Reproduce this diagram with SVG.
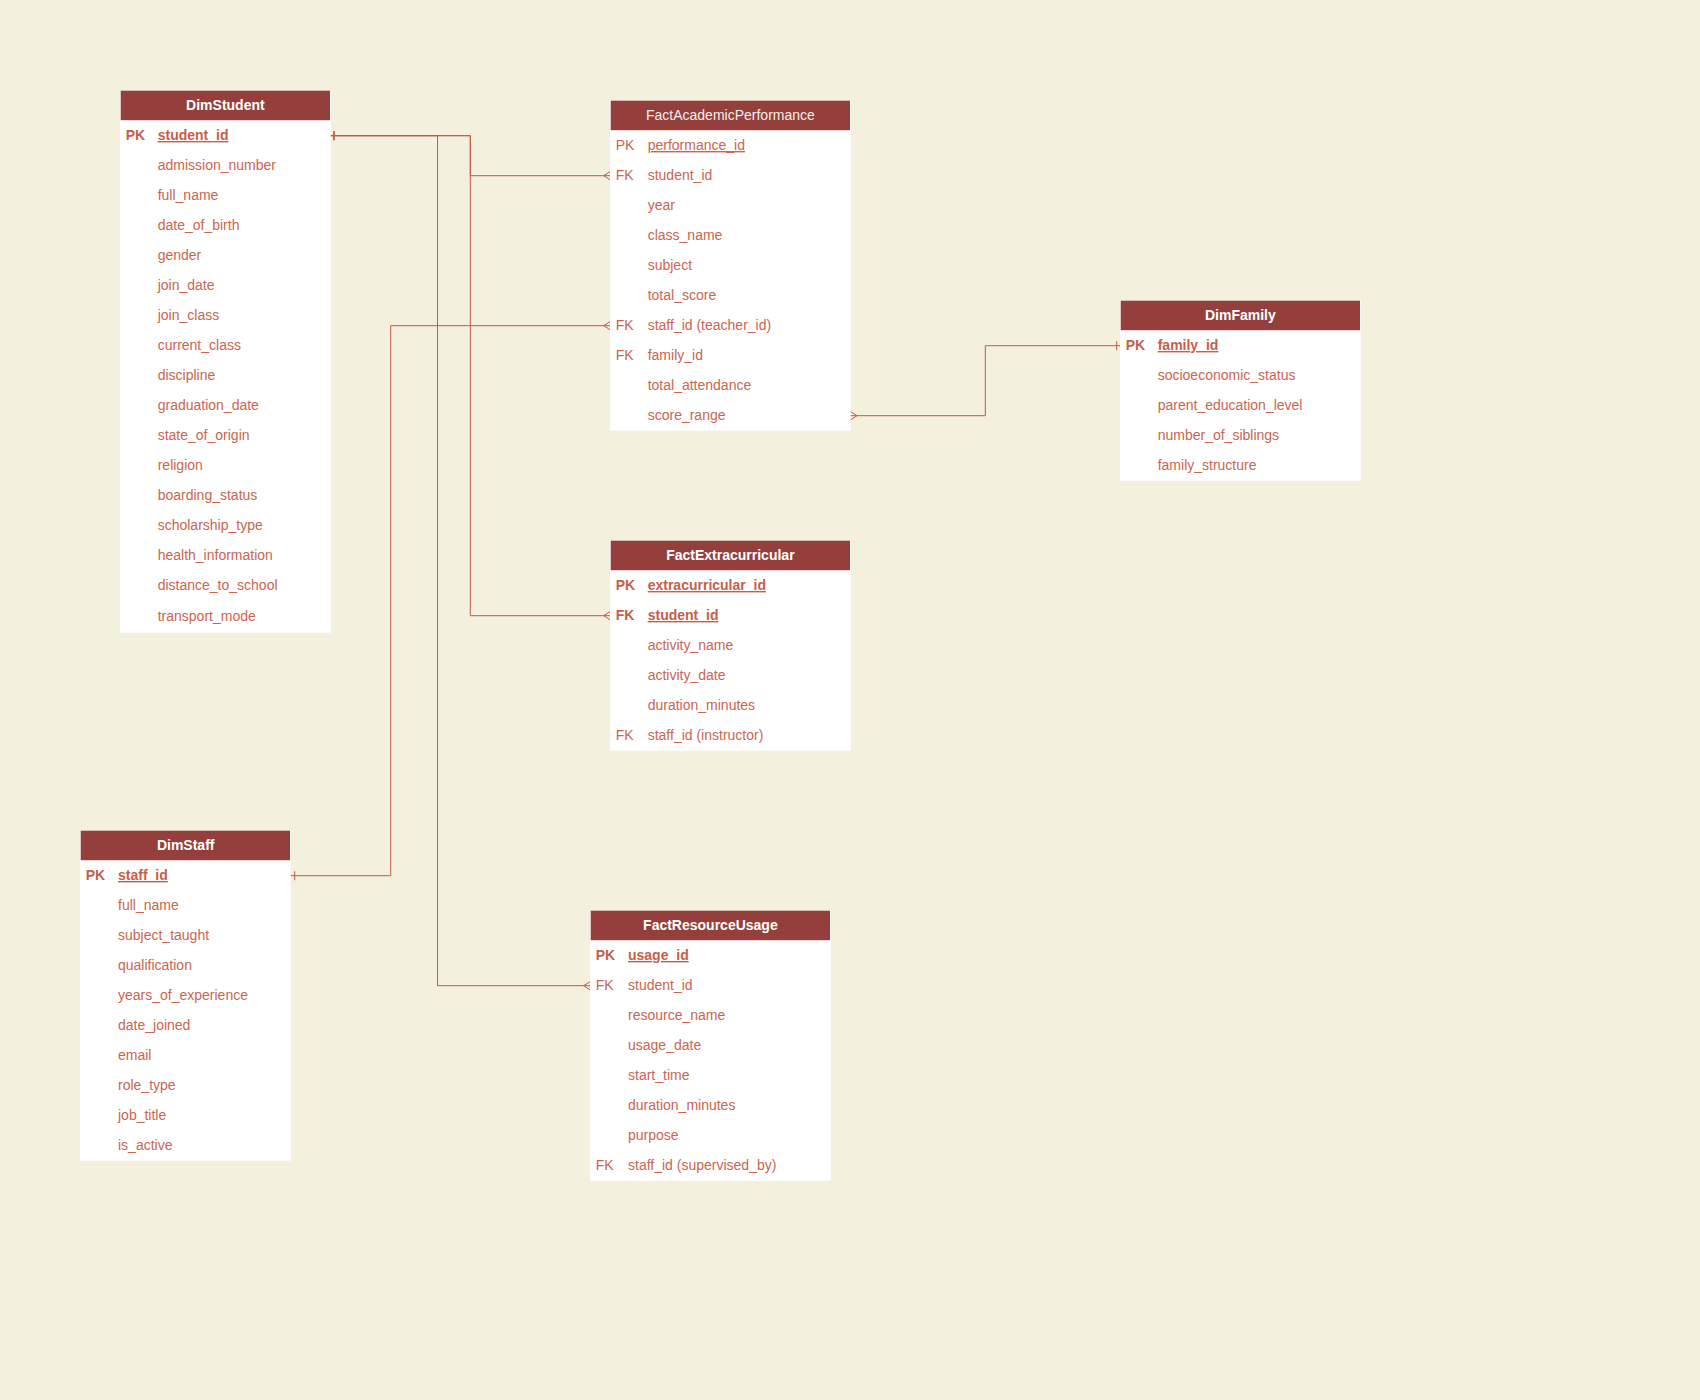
<svg xmlns="http://www.w3.org/2000/svg" width="1700" height="1400" viewBox="0 0 1700 1400">
<style>
.bg{fill:#F3F0DE}
.body{fill:#FFFFFF}
.head{fill:#943F3C}
.title{font-family:"Liberation Sans",Arial,sans-serif;font-size:14px;fill:#FFFFFF;text-anchor:middle;font-weight:bold}
.title.n{font-weight:normal;fill:#F6EEEE}
.t{font-family:"Liberation Sans",Arial,sans-serif;font-size:14px;fill:#CA654F}
.b{font-weight:bold;fill:#C65E48}
.u{text-decoration:underline}
.conn{fill:none;stroke:#C25B45;stroke-width:1}
</style>
<defs>
<marker id="many" markerUnits="userSpaceOnUse" markerWidth="9" markerHeight="11" viewBox="0 0 9 11" refX="7.5" refY="5" orient="auto" overflow="visible">
<path d="M0.5,5 L7.5,0.5 M0.5,5 L7.5,9.5" fill="none" stroke="#C25B45" stroke-width="1"/>
</marker>
<marker id="one" markerUnits="userSpaceOnUse" markerWidth="9" markerHeight="11" viewBox="0 0 9 11" refX="0" refY="5" orient="auto" overflow="visible">
<path d="M4,0.5 L4,9.5" fill="none" stroke="#C25B45" stroke-width="1"/>
</marker>
</defs>
<rect class="bg" x="0" y="0" width="1700" height="1400"/>

<g id="connectors">
<path class="conn" d="M330,135.7 H470.3 V175.7 H610.7" marker-start="url(#one)" marker-end="url(#many)"/>
<path class="conn" d="M330,135.7 H470.3 V615.7 H610.7" marker-start="url(#one)" marker-end="url(#many)"/>
<path class="conn" d="M330,135.7 H437.5 V985.7 H590.7" marker-start="url(#one)" marker-end="url(#many)"/>
<path class="conn" d="M290.7,875.7 H390.7 V325.7 H610.7" marker-start="url(#one)" marker-end="url(#many)"/>
<path class="conn" d="M1120.7,345.7 H985.3 V415.7 H850" marker-start="url(#one)" marker-end="url(#many)"/>
</g>

<g id="DimStudent">
<rect class="body" x="120" y="90.7" width="210.7" height="542"/>
<rect class="head" x="120.7" y="90.7" width="209.3" height="29.5"/>
<text class="title" x="225.4" y="110.3">DimStudent</text>
<text class="t b" x="125.7" y="140">PK</text>
<text class="t b u" x="157.7" y="140">student_id</text>
<text class="t" x="157.7" y="170">admission_number</text>
<text class="t" x="157.7" y="200">full_name</text>
<text class="t" x="157.7" y="230">date_of_birth</text>
<text class="t" x="157.7" y="260">gender</text>
<text class="t" x="157.7" y="290">join_date</text>
<text class="t" x="157.7" y="320">join_class</text>
<text class="t" x="157.7" y="350">current_class</text>
<text class="t" x="157.7" y="380">discipline</text>
<text class="t" x="157.7" y="410">graduation_date</text>
<text class="t" x="157.7" y="440">state_of_origin</text>
<text class="t" x="157.7" y="470">religion</text>
<text class="t" x="157.7" y="500">boarding_status</text>
<text class="t" x="157.7" y="530">scholarship_type</text>
<text class="t" x="157.7" y="560">health_information</text>
<text class="t" x="157.7" y="590">distance_to_school</text>
<text class="t" x="157.7" y="620.5">transport_mode</text>
</g>

<g id="FactAcademicPerformance">
<rect class="body" x="610" y="100.7" width="240.7" height="330"/>
<rect class="head" x="610.7" y="100.7" width="239.3" height="29.5"/>
<text class="title n" x="730.4" y="120.3">FactAcademicPerformance</text>
<text class="t" x="615.7" y="150">PK</text>
<text class="t u" x="647.7" y="150">performance_id</text>
<text class="t" x="615.7" y="180">FK</text>
<text class="t" x="647.7" y="180">student_id</text>
<text class="t" x="647.7" y="210">year</text>
<text class="t" x="647.7" y="240">class_name</text>
<text class="t" x="647.7" y="270">subject</text>
<text class="t" x="647.7" y="300">total_score</text>
<text class="t" x="615.7" y="330">FK</text>
<text class="t" x="647.7" y="330">staff_id (teacher_id)</text>
<text class="t" x="615.7" y="360">FK</text>
<text class="t" x="647.7" y="360">family_id</text>
<text class="t" x="647.7" y="390">total_attendance</text>
<text class="t" x="647.7" y="420">score_range</text>
</g>

<g id="DimFamily">
<rect class="body" x="1120" y="300.7" width="240.7" height="180"/>
<rect class="head" x="1120.7" y="300.7" width="239.3" height="29.5"/>
<text class="title" x="1240.4" y="320.3">DimFamily</text>
<text class="t b" x="1125.7" y="350">PK</text>
<text class="t b u" x="1157.7" y="350">family_id</text>
<text class="t" x="1157.7" y="380">socioeconomic_status</text>
<text class="t" x="1157.7" y="410">parent_education_level</text>
<text class="t" x="1157.7" y="440">number_of_siblings</text>
<text class="t" x="1157.7" y="470">family_structure</text>
</g>

<g id="FactExtracurricular">
<rect class="body" x="610" y="540.7" width="240.7" height="210"/>
<rect class="head" x="610.7" y="540.7" width="239.3" height="29.5"/>
<text class="title" x="730.4" y="560.3">FactExtracurricular</text>
<text class="t b" x="615.7" y="590">PK</text>
<text class="t b u" x="647.7" y="590">extracurricular_id</text>
<text class="t b" x="615.7" y="620">FK</text>
<text class="t b u" x="647.7" y="620">student_id</text>
<text class="t" x="647.7" y="650">activity_name</text>
<text class="t" x="647.7" y="680">activity_date</text>
<text class="t" x="647.7" y="710">duration_minutes</text>
<text class="t" x="615.7" y="740">FK</text>
<text class="t" x="647.7" y="740">staff_id (instructor)</text>
</g>

<g id="DimStaff">
<rect class="body" x="80" y="830.7" width="210.7" height="330"/>
<rect class="head" x="80.7" y="830.7" width="209.3" height="29.5"/>
<text class="title" x="185.7" y="850.3">DimStaff</text>
<text class="t b" x="85.7" y="880">PK</text>
<text class="t b u" x="118" y="880">staff_id</text>
<text class="t" x="118" y="910">full_name</text>
<text class="t" x="118" y="940">subject_taught</text>
<text class="t" x="118" y="970">qualification</text>
<text class="t" x="118" y="1000">years_of_experience</text>
<text class="t" x="118" y="1030">date_joined</text>
<text class="t" x="118" y="1060">email</text>
<text class="t" x="118" y="1090">role_type</text>
<text class="t" x="118" y="1120">job_title</text>
<text class="t" x="118" y="1150">is_active</text>
</g>

<g id="FactResourceUsage">
<rect class="body" x="590" y="910.7" width="240.7" height="270"/>
<rect class="head" x="590.7" y="910.7" width="239.3" height="29.5"/>
<text class="title" x="710.4" y="930.3">FactResourceUsage</text>
<text class="t b" x="595.7" y="960">PK</text>
<text class="t b u" x="628" y="960">usage_id</text>
<text class="t" x="595.7" y="990">FK</text>
<text class="t" x="628" y="990">student_id</text>
<text class="t" x="628" y="1020">resource_name</text>
<text class="t" x="628" y="1050">usage_date</text>
<text class="t" x="628" y="1080">start_time</text>
<text class="t" x="628" y="1110">duration_minutes</text>
<text class="t" x="628" y="1140">purpose</text>
<text class="t" x="595.7" y="1170">FK</text>
<text class="t" x="628" y="1170">staff_id (supervised_by)</text>
</g>
</svg>
